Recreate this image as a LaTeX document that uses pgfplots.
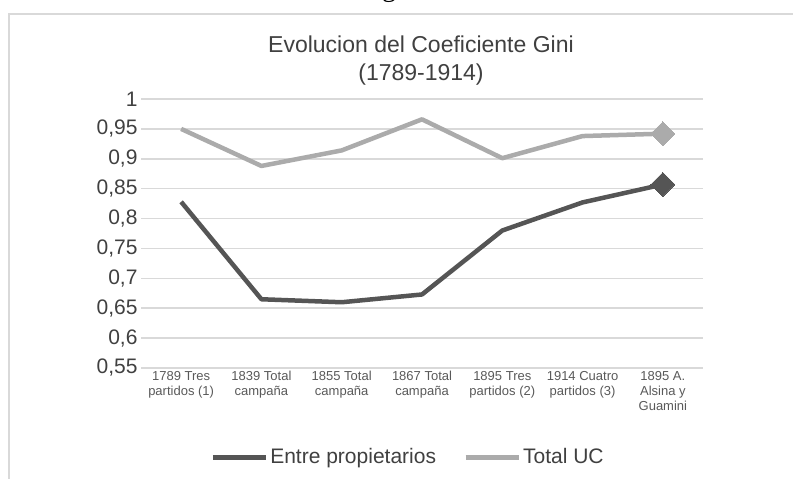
\documentclass[border=0pt]{standalone}
\usepackage{fontspec}
\setmainfont{Liberation Sans}
\newfontfamily\seriffont{Liberation Serif}
\usepackage{pgfplots}
\pgfplotsset{compat=1.18}
\definecolor{darkser}{HTML}{555555}
\definecolor{lightser}{HTML}{ABABAB}
\definecolor{gridc}{HTML}{D9D9D9}
\definecolor{framec}{HTML}{D9D9D9}
\definecolor{txt}{HTML}{404040}
\definecolor{ticktxt}{HTML}{595959}
\begin{document}
\begin{tikzpicture}
\useasboundingbox (0,0) rectangle (793pt,479pt);
\draw[framec, line width=2pt] (9pt,0) -- (9pt,465pt) -- (793pt,465pt);
\node[anchor=base, font=\seriffont\fontsize{28}{28}\selectfont, text=black] at (389pt,482pt) {g};
\node[align=center, font=\fontsize{23}{28}\selectfont, text=txt] at (421pt,418pt) {Evolucion del Coeficiente Gini\\(1789-1914)};
\begin{axis}[
  at={(141pt,111pt)}, anchor=south west,
  width=562pt, height=269pt, scale only axis,
  xmin=-0.5, xmax=6.5, ymin=0.55, ymax=1,
  axis line style={draw=none},
  ytick={0.55,0.6,0.65,0.7,0.75,0.8,0.85,0.9,0.95,1},
  ymajorgrids, grid style={gridc, line width=1.5pt},
  major tick length=0pt,
  xtick={0,...,6},
  xticklabels={{1789 Tres\\partidos (1)},{1839 Total\\campaña},{1855 Total\\campaña},{1867 Total\\campaña},{1895 Tres\\partidos (2)},{1914 Cuatro\\partidos (3)},{1895 A.\\Alsina y\\Guamini}},
  xticklabel style={align=center, font=\fontsize{13}{15}\selectfont, text=ticktxt},
  yticklabel style={font=\fontsize{21}{21}\selectfont, text=txt},
  /pgf/number format/assume math mode=true,
  /pgf/number format/use comma,
  /pgf/number format/precision=2,
  clip=false,
  legend style={at={(0.475,-0.331)}, anchor=center, draw=none, legend columns=2,
    font=\fontsize{21}{21}\selectfont, text=txt, /tikz/every even column/.append style={column sep=25pt}},
  legend image code/.code={\draw[#1, line width=5pt] (0pt,0pt) -- (53pt,0pt);},
]
\addplot[darkser, line width=4.5pt, line join=round, mark=square*, mark indices={7}, mark size=8.5pt, mark options={rotate=45, solid, fill=darkser, draw=darkser, line width=0pt}]
  coordinates {(0,0.828) (1,0.665) (2,0.660) (3,0.673) (4,0.780) (5,0.827) (6,0.857)};
\addlegendentry{Entre propietarios}
\addplot[lightser, line width=4.5pt, line join=round, mark=square*, mark indices={7}, mark size=8.5pt, mark options={rotate=45, solid, fill=lightser, draw=lightser, line width=0pt}]
  coordinates {(0,0.950) (1,0.888) (2,0.914) (3,0.966) (4,0.901) (5,0.938) (6,0.942)};
\addlegendentry{Total UC}
\end{axis}
\end{tikzpicture}
\end{document}
